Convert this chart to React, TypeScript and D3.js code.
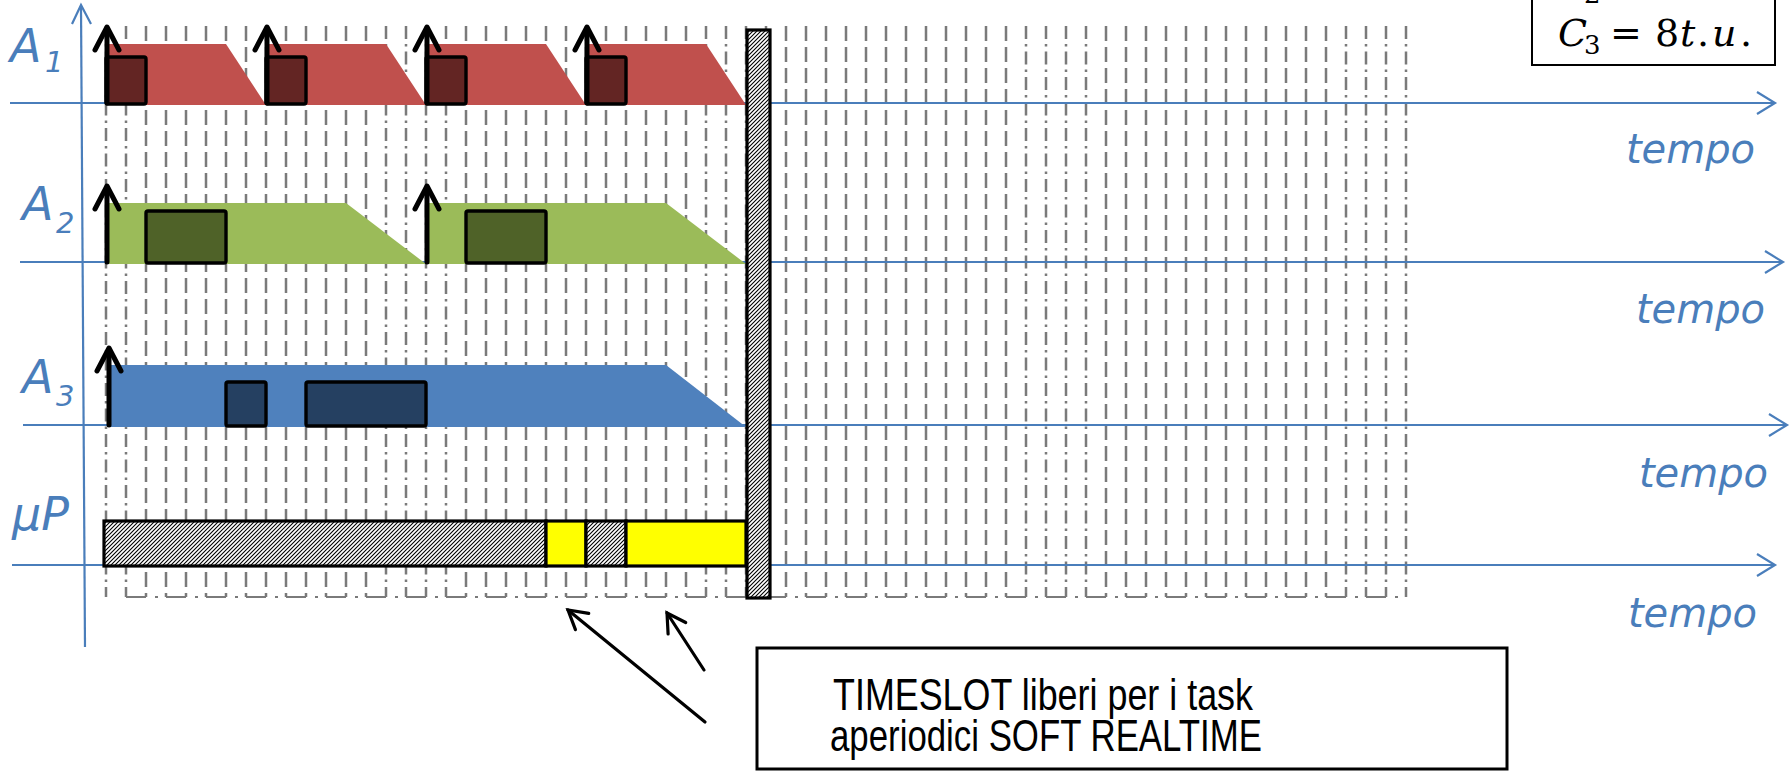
import React from 'react';
import * as d3 from 'd3';

const W = 1791;
const H = 771;

// ---- data ----
const taskSubscripts = ['1', '2', '3'];
const taskPeriods = [8, 16, 32];
const taskTaper = [2, 4, 4];
const releasesA1 = [0, 8, 16, 24];
const releasesA2 = [0, 16];
const releasesA3 = [0];
const execA1 = [[0, 2], [8, 10], [16, 18], [24, 26]];
const execA2 = [[2, 6], [18, 22]];
const execA3 = [[6, 8], [10, 16]];
const cpuStart = [0, 22, 24, 26];
const cpuEnd = [22, 24, 26, 32];
const cpuState = ['busy', 'free', 'busy', 'free'];
const gridSlots = d3.range(0, 66);
const hyperperiod = 32;
const barrierWidth = 1.15;
const axisName = 'tempo';
const noteLines = ['TIMESLOT liberi per i task', 'aperiodici SOFT REALTIME'];

// ---- styling / layout ----
const AXIS = '#4A7EBB';
const GRID = '#7A7A7A';
const light = ['#C0504D', '#9BBB59', '#4F81BD'];
const dark = ['#632523', '#4F6228', '#254061'];

const rows = [
  { base: 103, top: 44, boxTop: 57, ax0: 10, ax1: 1775, lx: 10, ly: 62, sx: 45, sy: 72, tx: 1755, ty: 163 },
  { base: 262, top: 203, boxTop: 211, ax0: 20, ax1: 1783, lx: 22, ly: 220, sx: 56, sy: 233, tx: 1765, ty: 323 },
  { base: 425, top: 365, boxTop: 382, ax0: 23, ax1: 1787, lx: 22, ly: 393, sx: 56, sy: 406, tx: 1768, ty: 487 },
];
const cpuRow = { base: 565, top: 521, ax0: 12, ax1: 1775, lx: 12, ly: 530, tx: 1757, ty: 627 };

const x = d3.scaleLinear().domain([0, 65]).range([106, 1406]);

const releases = [releasesA1, releasesA2, releasesA3];
const execs = [execA1, execA2, execA3];

const dashDot = (t: number) => [0, 1, 14, 15].includes(t % 16);

function axisArrow(x0: number, x1: number, y: number, key: string) {
  return (
    <g key={key} stroke={AXIS} strokeWidth={2.2} fill="none">
      <line x1={x0} y1={y} x2={x1} y2={y} />
      <path d={`M${x1 - 18},${y - 11} L${x1},${y} L${x1 - 18},${y + 11}`} />
    </g>
  );
}

function pointer(tail: [number, number], tip: [number, number], key: string) {
  const dx = tail[0] - tip[0];
  const dy = tail[1] - tip[1];
  const a = Math.atan2(dy, dx);
  const L = 21;
  const w1 = [tip[0] + L * Math.cos(a - Math.PI / 6), tip[1] + L * Math.sin(a - Math.PI / 6)];
  const w2 = [tip[0] + L * Math.cos(a + Math.PI / 6), tip[1] + L * Math.sin(a + Math.PI / 6)];
  return (
    <g key={key} stroke="#000" strokeWidth={3.2} fill="none" strokeLinecap="round">
      <line x1={tail[0]} y1={tail[1]} x2={tip[0]} y2={tip[1]} />
      <path d={`M${w1[0]},${w1[1]} L${tip[0]},${tip[1]} L${w2[0]},${w2[1]}`} />
    </g>
  );
}

export default function App() {
  const gridTop = 26;
  const gridBottom = 597;
  const labelFont = '"DejaVu Sans", Verdana, sans-serif';
  return (
    <svg width={W} height={H} style={{ position: 'absolute', left: 0, top: 0, background: '#fff' }}>
      <defs>
        <pattern id="hatch" patternUnits="userSpaceOnUse" width={4} height={4}>
          <rect width={4} height={4} fill="#fff" />
          <path d="M-1,1 l2,-2 M0,4 l4,-4 M3,5 l2,-2" stroke="#000" strokeWidth={1.1} />
        </pattern>
      </defs>

      {/* grid */}
      <g stroke={GRID} strokeWidth={2.5}>
        {gridSlots.map((t) => (
          <line key={t} x1={x(t)} x2={x(t)} y1={gridTop} y2={gridBottom}
            strokeDasharray={dashDot(t) ? '13 5 2.5 5' : '15 6'} />
        ))}
        <line x1={x(1)} x2={x(65)} y1={gridBottom} y2={gridBottom} strokeWidth={2} strokeDasharray="20 9 3 8" />
      </g>

      {/* axes */}
      <g stroke={AXIS} strokeWidth={2.2} fill="none">
        <line x1={81} y1={6} x2={85} y2={647} />
        <path d="M72,24 L81,5 L91,24" />
      </g>
      {rows.map((r, i) => axisArrow(r.ax0, r.ax1, r.base, 'ax' + i))}
      {axisArrow(cpuRow.ax0, cpuRow.ax1, cpuRow.base, 'axcpu')}

      {/* task windows */}
      {rows.map((r, i) =>
        releases[i].map((rel, j) => {
          const d = rel + taskPeriods[i];
          const pts = [
            [x(rel) + 1, r.top], [x(d - taskTaper[i]), r.top], [x(d), r.base + 2], [x(rel) + 1, r.base + 2],
          ];
          return <polygon key={`tr${i}-${j}`} points={pts.map((p) => p.join(',')).join(' ')} fill={light[i]} />;
        })
      )}

      {/* executions */}
      {rows.map((r, i) =>
        execs[i].map((e, j) => (
          <rect key={`ex${i}-${j}`} x={x(e[0])} y={r.boxTop} width={x(e[1]) - x(e[0])} height={r.base + 1 - r.boxTop}
            fill={dark[i]} stroke="#000" strokeWidth={3.4} rx={2} />
        ))
      )}

      {/* release arrows */}
      {rows.map((r, i) =>
        releases[i].map((rel, j) => {
          const ax = x(rel) + (i === 2 ? 3 : 1);
          const tip = r.top - 17;
          return (
            <g key={`ar${i}-${j}`} stroke="#000" strokeWidth={5} fill="none" strokeLinecap="round" strokeLinejoin="round">
              <line x1={ax} y1={r.base} x2={ax} y2={tip + 2} />
              <path d={`M${ax - 12},${tip + 23} L${ax},${tip} L${ax + 12},${tip + 23}`} />
            </g>
          );
        })
      )}

      {/* processor timeline */}
      {cpuStart.map((s, k) => (
        <rect key={`cpu${k}`} x={x(s) - (k === 0 ? 2 : 0)} y={cpuRow.top}
          width={x(cpuEnd[k]) - x(s) + (k === 0 ? 2 : 0)} height={cpuRow.base + 1 - cpuRow.top}
          fill={cpuState[k] === 'busy' ? 'url(#hatch)' : '#FFFF00'} stroke="#000" strokeWidth={3.2} />
      ))}

      {/* hyperperiod barrier */}
      <rect x={x(hyperperiod) + 1} y={30} width={x(hyperperiod + barrierWidth) - x(hyperperiod)} height={gridBottom + 1 - 30}
        fill="url(#hatch)" stroke="#000" strokeWidth={3.2} />

      {/* row labels */}
      <g fill={AXIS} fontFamily={labelFont} fontStyle="italic">
        {rows.map((r, i) => (
          <g key={`lab${i}`}>
            <text x={r.lx} y={r.ly} fontSize={46}>A</text>
            <text x={r.sx} y={r.sy} fontSize={29}>{taskSubscripts[i]}</text>
          </g>
        ))}
        <text x={cpuRow.lx} y={cpuRow.ly} fontSize={46}>μP</text>
        {rows.map((r, i) => (
          <text key={`tm${i}`} x={r.tx} y={r.ty} fontSize={40} textAnchor="end">{axisName}</text>
        ))}
        <text x={cpuRow.tx} y={cpuRow.ty} fontSize={40} textAnchor="end">{axisName}</text>
      </g>

      {/* formula box */}
      <rect x={1532} y={-40} width={243} height={105} fill="#fff" stroke="#000" strokeWidth={2} />
      <g fontFamily='"DejaVu Serif", "Liberation Serif", serif' fill="#000">
        {[{ y: -5, sub: '2', val: '4' }, { y: 46, sub: '3', val: '8' }].map((l, k) => (
          <g key={`f${k}`}>
            <text x={1558} y={l.y} fontSize={38} fontStyle="italic">C</text>
            <text x={1584} y={l.y + 8} fontSize={26}>{l.sub}</text>
            <text x={1610} y={l.y} fontSize={38}>=</text>
            <text x={1655} y={l.y} fontSize={38}>{l.val}</text>
            <text x={1680} y={l.y} fontSize={38} fontStyle="italic">t</text>
            <text x={1697} y={l.y} fontSize={38}>.</text>
            <text x={1712} y={l.y} fontSize={38} fontStyle="italic">u</text>
            <text x={1740} y={l.y} fontSize={38}>.</text>
          </g>
        ))}
      </g>

      {/* pointers */}
      {pointer([705, 722], [568, 610], 'p1')}
      {pointer([704, 670], [667, 613], 'p2')}

      {/* note box */}
      <rect x={757} y={648} width={750} height={121} fill="#fff" stroke="#000" strokeWidth={3} />
      <g fontFamily='"Liberation Sans", Arial, sans-serif' fontSize={45} fill="#000" textAnchor="middle">
        <text x={1043} y={710} textLength={420} lengthAdjust="spacingAndGlyphs">{noteLines[0]}</text>
        <text x={1046} y={751} textLength={432} lengthAdjust="spacingAndGlyphs">{noteLines[1]}</text>
      </g>
    </svg>
  );
}
